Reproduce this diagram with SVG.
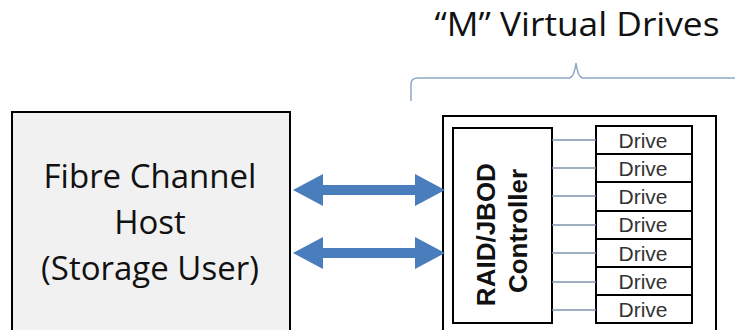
<svg xmlns="http://www.w3.org/2000/svg" width="735" height="330" viewBox="0 0 735 330">
  <style>
    .box { stroke: #000; stroke-width: 2; }
    .host-text { font-family: "Open Sans", "Noto Sans", sans-serif; font-size: 33px; fill: #111; text-anchor: middle; }
    .title { font-family: "Open Sans", "Noto Sans", sans-serif; font-size: 33px; fill: #111; text-anchor: middle; }
    .drive { fill: #fff; stroke: #000; stroke-width: 2; }
    .drive-text { font-family: "Liberation Sans", Arial, sans-serif; font-size: 21px; fill: #333; text-anchor: middle; }
    .ctrl-text { font-family: "Liberation Sans", Arial, sans-serif; font-size: 26px; font-weight: bold; fill: #111; text-anchor: middle; }
    .link { stroke: #7f93ad; stroke-width: 1.5; fill: none; }
    .dbl-arrow { fill: #4a7dbb; }
  </style>
  <defs>
    <!-- double-headed block arrow, 152 long, centred on y=0 -->
    <path id="dblArrow" d="M0,0 L30,-16 L30,-5 L122,-5 L122,-16 L152,0 L122,16 L122,5 L30,5 L30,16 Z"/>
  </defs>

  <!-- title and brace -->
  <g id="title">
    <text class="title" x="577" y="36" textLength="285" lengthAdjust="spacingAndGlyphs">“M” Virtual Drives</text>
    <path d="M411,101 L411,84 Q411,78 418,78 L569,78 Q574,78 576,63 Q578,78 583,78 L735,78" fill="none" stroke="#8fa8c6" stroke-width="1.5"/>
  </g>

  <!-- host -->
  <g id="host">
    <rect class="box" x="12" y="112" width="278" height="230" fill="#f1f1f1"/>
    <text class="host-text" x="150" y="188">Fibre Channel</text>
    <text class="host-text" x="150" y="234">Host</text>
    <text class="host-text" x="150" y="280">(Storage User)</text>
  </g>

  <!-- storage enclosure -->
  <g id="enclosure">
    <rect class="box" x="443" y="116" width="273" height="230" fill="#fff"/>
  </g>

  <g id="controller">
    <rect class="box" x="453" y="128" width="99" height="195" fill="#fff"/>
    <text class="ctrl-text" transform="translate(500,231) rotate(-90)">
      <tspan x="0" y="-5">RAID/JBOD</tspan>
      <tspan x="0" y="27">Controller</tspan>
    </text>
  </g>

  <g id="drives">
    <rect class="drive" x="596" y="126" width="96" height="28"/>
    <rect class="drive" x="596" y="154" width="96" height="28"/>
    <rect class="drive" x="596" y="182" width="96" height="29"/>
    <rect class="drive" x="596" y="211" width="96" height="28"/>
    <rect class="drive" x="596" y="239" width="96" height="28"/>
    <rect class="drive" x="596" y="267" width="96" height="28"/>
    <rect class="drive" x="596" y="295" width="96" height="28"/>
    <text class="drive-text" x="643" y="148">Drive</text>
    <text class="drive-text" x="643" y="176">Drive</text>
    <text class="drive-text" x="643" y="204">Drive</text>
    <text class="drive-text" x="643" y="232">Drive</text>
    <text class="drive-text" x="643" y="261">Drive</text>
    <text class="drive-text" x="643" y="289">Drive</text>
    <text class="drive-text" x="643" y="317">Drive</text>
  </g>

  <!-- connectors -->
  <g id="connectors">
    <use href="#dblArrow" class="dbl-arrow" x="293" y="190"/>
    <use href="#dblArrow" class="dbl-arrow" x="293" y="253"/>
    <line class="link" x1="552" y1="140" x2="596" y2="140"/>
    <line class="link" x1="552" y1="168" x2="596" y2="168"/>
    <line class="link" x1="552" y1="196" x2="596" y2="196"/>
    <line class="link" x1="552" y1="225" x2="596" y2="225"/>
    <line class="link" x1="552" y1="253" x2="596" y2="253"/>
    <line class="link" x1="552" y1="282" x2="596" y2="282"/>
    <line class="link" x1="552" y1="310" x2="596" y2="310"/>
  </g>
</svg>
